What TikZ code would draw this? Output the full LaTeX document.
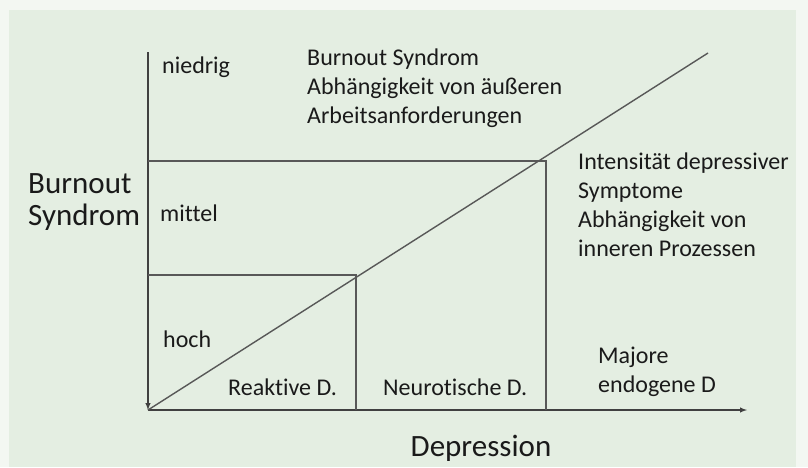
\documentclass[tikz,border=0pt]{standalone}
\usepackage{fontspec}
\setmainfont{Carlito}[Ligatures=NoCommon]
\usepackage{tikz}
\usetikzlibrary{arrows,positioning}

\definecolor{outerbg}{RGB}{243,247,242}
\definecolor{panelbg}{RGB}{228,238,226}
\definecolor{linegray}{RGB}{88,88,88}
\definecolor{textgray}{RGB}{26,26,26}

\begin{document}
\begin{tikzpicture}[x=1pt, y=-1pt,
        lbl/.style={anchor=west, align=left, inner sep=0pt, text=textgray,
                    font=\fontsize{24}{29}\selectfont},
        biglbl/.style={lbl, font=\fontsize{31}{32}\selectfont},
        ln/.style={draw=linegray, line width=1.4pt},
        axis/.style={ln, draw=black!75, -latex}]
            \useasboundingbox (0,0) rectangle (808,467);
            \fill[outerbg] (0,0) rectangle (808,467);
            \fill[panelbg] (9,10) rectangle (796,467);
            % axes
            \coordinate (o) at (148,410);
            \coordinate (ytop) at (148,52);
            \coordinate (xend) at (747,410);
            \coordinate (dtop) at (708,53);
            % corners of the boxes
            \coordinate (c1) at (356,275);
            \coordinate (c2) at (546,161);
            \coordinate (c1b) at (356,410);
            \coordinate (c2b) at (546,410);
            \coordinate (c1l) at (148,275);
            \coordinate (c2l) at (148,161);
            \path[axis] (ytop) -- (o);
            \path[axis] (o) -- (xend);
            \path[ln] (o) -- (dtop);
            \path[ln] (c1l) -- (c1) -- (c1b);
            \path[ln] (c2l) -- (c2) -- (c2b);
            % labels
            \node[lbl] (niedrig) at (162,67) {niedrig};
            \node[lbl] (mittel) at (160,213) {mittel};
            \node[lbl] (hoch) at (163,339) {hoch};
            \node[lbl] (aussen) at (307,88.5) {Burnout Syndrom\\Abhängigkeit von äußeren\\Arbeitsanforderungen};
            \node[lbl] (innen) at (578,204.5) {Intensität depressiver\\Symptome\\Abhängigkeit von\\inneren Prozessen};
            \node[lbl] (reaktiv) at (228,387) {Reaktive D.};
            \node[lbl] (neurot) at (383,387) {Neurotische D.};
            \node[lbl] (major) at (598,372) {Majore\\endogene D};
            \node[biglbl] (burnout) at (28,202) {Burnout\\Syndrom};
            \node[biglbl, anchor=center] (depr) at (481,448) {Depression};
\end{tikzpicture}
\end{document}
